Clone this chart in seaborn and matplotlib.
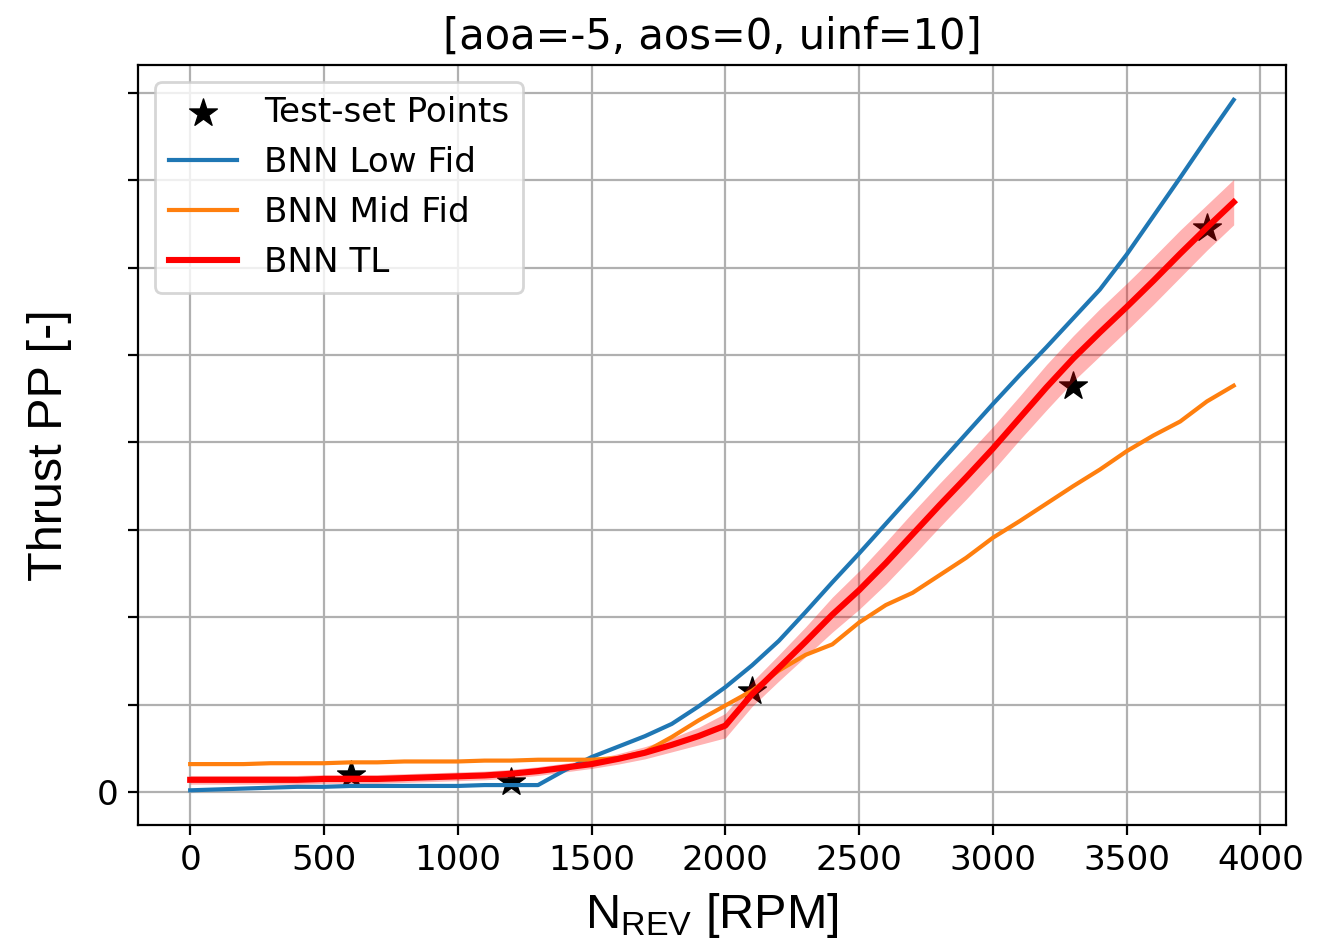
import numpy as np
import pandas as pd
import matplotlib
matplotlib.use("Agg")
import matplotlib.pyplot as plt
import seaborn as sns

# ---- data ----
rpm = [0, 100, 200, 300, 400, 500, 600, 700, 800, 900, 1000, 1100, 1200, 1300,
       1400, 1500, 1600, 1700, 1800, 1900, 2000, 2100, 2200, 2300, 2400, 2500,
       2600, 2700, 2800, 2900, 3000, 3100, 3200, 3300, 3400, 3500, 3600, 3700,
       3800, 3900]

low_fid = [0.02, 0.03, 0.04, 0.05, 0.06, 0.06, 0.07, 0.07, 0.07, 0.07, 0.07,
           0.08, 0.08, 0.08, 0.25, 0.40, 0.52, 0.64, 0.78, 0.98, 1.20, 1.45,
           1.73, 2.06, 2.40, 2.73, 3.07, 3.41, 3.76, 4.10, 4.44, 4.77, 5.09,
           5.42, 5.75, 6.15, 6.59, 7.03, 7.48, 7.92]

mid_fid = [0.32, 0.32, 0.32, 0.33, 0.33, 0.33, 0.34, 0.34, 0.35, 0.35, 0.35,
           0.36, 0.36, 0.37, 0.37, 0.37, 0.39, 0.46, 0.63, 0.82, 0.99, 1.16,
           1.39, 1.57, 1.69, 1.94, 2.14, 2.28, 2.48, 2.68, 2.91, 3.10, 3.30,
           3.50, 3.69, 3.90, 4.08, 4.24, 4.47, 4.65]

tl_mean = [0.14, 0.14, 0.14, 0.14, 0.14, 0.15, 0.15, 0.15, 0.16, 0.17, 0.18,
           0.19, 0.21, 0.24, 0.28, 0.32, 0.38, 0.45, 0.54, 0.64, 0.76, 1.12,
           1.42, 1.72, 2.03, 2.31, 2.62, 2.95, 3.28, 3.60, 3.93, 4.28, 4.63,
           4.96, 5.26, 5.55, 5.85, 6.16, 6.46, 6.75]

tl_std = [0.05, 0.05, 0.05, 0.05, 0.05, 0.05, 0.05, 0.05, 0.05, 0.05, 0.05,
          0.05, 0.05, 0.05, 0.05, 0.05, 0.06, 0.07, 0.08, 0.10, 0.14, 0.14,
          0.15, 0.17, 0.20, 0.22, 0.24, 0.25, 0.25, 0.25, 0.25, 0.25, 0.26,
          0.26, 0.27, 0.27, 0.27, 0.27, 0.26, 0.26]

test_rpm = [600, 1200, 2100, 3300, 3800]
test_thrust = [0.20, 0.11, 1.16, 4.65, 6.45]

y_ticks = [0, 1, 2, 3, 4, 5, 6, 7, 8]
y_tick_labels = ["0", "", "", "", "", "", "", "", ""]
x_ticks = [0, 500, 1000, 1500, 2000, 2500, 3000, 3500, 4000]

# ---- style ----
plt.rcParams["mathtext.fontset"] = "custom"
plt.rcParams["mathtext.rm"] = "Liberation Sans"
plt.rcParams["mathtext.it"] = "Liberation Sans"

fig, ax = plt.subplots(figsize=(6.635, 4.735), dpi=200)
fig.subplots_adjust(left=0.104, right=0.969, top=0.931, bottom=0.129)

sns.scatterplot(x=test_rpm, y=test_thrust, marker="*", color="black", s=110,
                edgecolor="black", linewidth=0.5, label="Test-set Points",
                ax=ax, zorder=1)
sns.lineplot(x=rpm, y=low_fid, color="#1f77b4", linewidth=1.5,
             label="BNN Low Fid", ax=ax)
sns.lineplot(x=rpm, y=mid_fid, color="#ff7f0e", linewidth=1.5,
             label="BNN Mid Fid", ax=ax)
lo = np.array(tl_mean) - np.array(tl_std)
hi = np.array(tl_mean) + np.array(tl_std)
ax.fill_between(rpm, lo, hi, color="red", alpha=0.3, linewidth=0)
sns.lineplot(x=rpm, y=tl_mean, color="red", linewidth=2.2,
             label="BNN TL", ax=ax)

ax.set_xticks(x_ticks)
ax.set_yticks(y_ticks)
ax.set_yticklabels(y_tick_labels)
ax.tick_params(labelsize=12.3)
ax.grid(True)
ax.set_axisbelow(True)

ax.set_title("[aoa=-5, aos=0, uinf=10]", fontsize=15, pad=6)
ax.set_xlabel(r"N$_{\mathrm{REV}}$ [RPM]", fontsize=17.5,
              family="Liberation Sans", labelpad=5)
ax.set_ylabel("Thrust PP [-]", fontsize=17.5, family="Liberation Sans",
              labelpad=9)

ax.legend(loc="upper left", fontsize=12.3)

fig.savefig("out.png", dpi=200)
